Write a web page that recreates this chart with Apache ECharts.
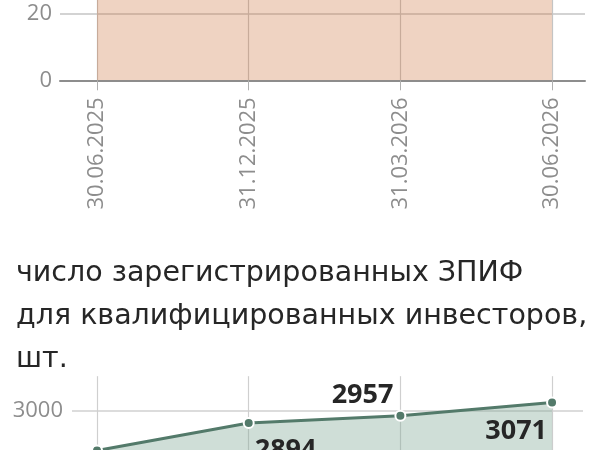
<!DOCTYPE html>
<html>
<head>
<meta charset="utf-8">
<script src="https://cdn.jsdelivr.net/npm/echarts@6/dist/echarts.min.js"></script>
<style>
html,body{margin:0;padding:0;background:#fff;}
#c{width:600px;height:450px;}
</style>
</head>
<body>
<div id="c"></div>
<script>
// ---- data ----
const categories = ['30.06.2025', '31.12.2025', '31.03.2026', '30.06.2026'];
const topValues = [32, 33, 35, 36];            // upper chart (values above visible area, estimated)
const topTicks = [0, 20, 40];
const zpifCounts = [2655, 2894, 2957, 3071];    // registered ZPIF for qualified investors, pcs
const zpifTicks = [2500, 3000];
const titleLines = ['число зарегистрированных ЗПИФ', 'для квалифицированных инвесторов,', 'шт.'];

const idx = categories.map((_, i) => i);
const topData = topValues.map((v, i) => [i, v]);
const labelPlace = [
  { align: 'left', verticalAlign: 'top', offset: [6, 14] },
  { align: 'left', verticalAlign: 'top', offset: [6, 14] },
  { align: 'right', verticalAlign: 'middle', offset: [-7, -20] },
  { align: 'right', verticalAlign: 'middle', offset: [-5, 29] }
];
const zpifData = zpifCounts.map((v, i) => ({
  value: [i, v],
  label: Object.assign({ show: true, position: 'inside' }, labelPlace[i])
}));

const gray = '#8d8d8d';
const font = 'Open Sans';

const chart = echarts.init(document.getElementById('c'), null, { renderer: 'canvas' });
chart.setOption({
  animation: false,
  backgroundColor: '#ffffff',
  title: {
    text: titleLines.join('\n'),
    left: 11,
    top: 247,
    textStyle: { fontFamily: 'DejaVu Sans', fontSize: 28.5, fontWeight: 'normal', color: '#262626', lineHeight: 43 }
  },
  grid: [
    { left: 60, right: 15, top: -53.1, height: 133.4, outerBoundsMode: 'none', containLabel: false },
    { left: 72, right: 17, top: 376.2, height: 92.2, outerBoundsMode: 'none', containLabel: false }
  ],
  xAxis: [
    {
      gridIndex: 0, type: 'value', min: -0.244, max: 3.218,
      axisLine: { show: true, onZero: false, lineStyle: { color: gray, width: 2 } },
      axisTick: { show: true, customValues: idx, length: 10, lineStyle: { color: '#b0b0b0', width: 1 } },
      axisLabel: {
        customValues: idx, rotate: 90, margin: 17,
        formatter: v => categories[Math.round(v)],
        fontFamily: font, fontSize: 22, color: gray
      },
      splitLine: { show: true, lineStyle: { color: '#c4c4c4', width: 1.2 } }
    },
    {
      gridIndex: 1, type: 'value', min: -0.165, max: 3.204,
      axisLine: { show: false },
      axisTick: { show: false, customValues: idx },
      axisLabel: { show: false, customValues: idx, formatter: v => categories[Math.round(v)] },
      splitLine: { show: true, lineStyle: { color: '#cfcfcf', width: 1.2 } }
    }
  ],
  yAxis: [
    {
      gridIndex: 0, type: 'value', min: 0, max: 40, interval: 20,
      axisLine: { show: false },
      axisTick: { show: false, customValues: topTicks },
      axisLabel: { margin: 8, fontFamily: font, fontSize: 22, color: gray,
        customValues: topTicks, formatter: v => String(v) },
      splitLine: { show: true, lineStyle: { color: '#c4c4c4', width: 1.5 } }
    },
    {
      gridIndex: 1, type: 'value', min: 2500, max: 3300,
      axisLine: { show: false },
      axisTick: { show: false, customValues: zpifTicks },
      axisLabel: { margin: 9, fontFamily: font, fontSize: 22, color: gray,
        customValues: zpifTicks, formatter: v => String(v) },
      splitLine: { show: true, lineStyle: { color: '#d0d0d0', width: 1.5 } }
    }
  ],
  series: [
    {
      type: 'line', xAxisIndex: 0, yAxisIndex: 0, data: topData,
      symbol: 'none', lineStyle: { width: 0 },
      areaStyle: { color: 'rgba(205,120,70,0.47)', origin: 'start' },
      z: 1
    },
    {
      type: 'line', xAxisIndex: 1, yAxisIndex: 1, data: zpifData,
      symbol: 'circle', symbolSize: 10,
      itemStyle: { color: '#537a6a', borderColor: '#ffffff', borderWidth: 2 },
      lineStyle: { color: '#537a6a', width: 3 },
      areaStyle: { color: 'rgba(130,170,152,0.55)', origin: 'start' },
      label: { fontFamily: font, fontSize: 27, fontWeight: 'bold', color: '#262626' },
      z: 2
    }
  ]
});
</script>
</body>
</html>
